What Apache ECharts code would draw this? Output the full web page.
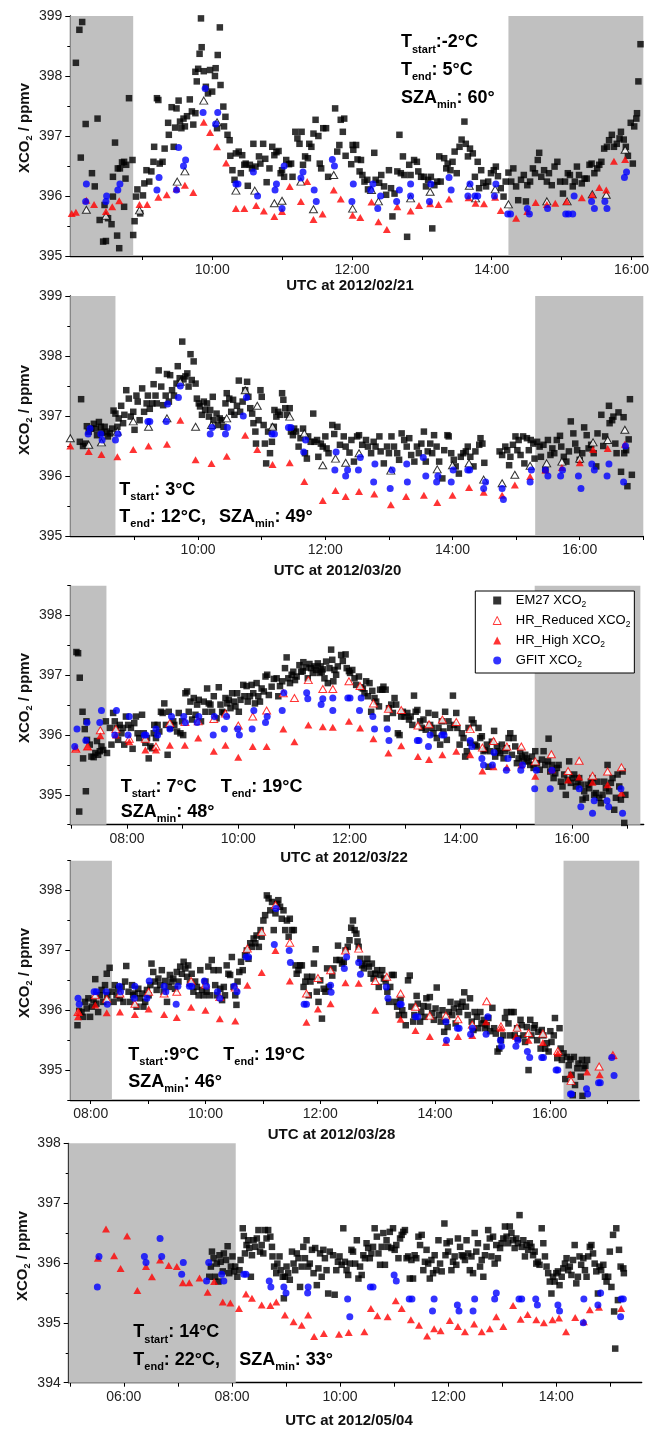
<!DOCTYPE html>
<html><head><meta charset="utf-8">
<script src="https://cdn.jsdelivr.net/npm/echarts@6/dist/echarts.min.js"></script>
<style>html,body{margin:0;padding:0;background:#fff}#c{width:662px;height:1429px}</style>
</head><body><div id="c"></div>
<script>
// ---------------- DATA (hours UTC, ppmv) ----------------
const p1Em27 = [[8.05,398.22],[8.10,398.77],[8.14,398.9],[8.19,397.2],[8.12,396.64],[8.28,396.38],[8.32,396.16],[8.36,397.29],[8.39,395.6],[8.44,395.24],[8.48,395.25],[8.46,395.85],[8.51,395.63],[8.56,395.53],[8.58,395.99],[8.61,396.89],[8.64,395.34],[8.67,395.13],[8.58,396.32],[8.65,396.46],[8.68,396.46],[8.71,396.56],[8.74,396.57],[8.77,396.52],[8.76,396.29],[8.74,395.82],[8.81,397.63],[8.86,396.6],[8.87,395.35],[8.89,395.58],[8.91,395.99],[8.93,396.11],[8.97,395.71],[9.01,396.01],[9.03,396.21],[9.06,396.43],[9.10,396.24],[9.13,396.41],[9.16,396.57],[9.17,396.82],[9.21,397.63],[9.23,397.6],[9.25,396.54],[9.29,396.57],[9.32,396.79],[9.37,397.22],[9.38,397.02],[9.42,397.48],[9.45,396.82],[9.47,397.14],[9.49,397.46],[9.52,397.59],[9.54,397.24],[9.56,397.13],[9.59,397.29],[9.61,397.16],[9.64,397.33],[9.68,397.61],[9.71,397.41],[9.73,397.19],[9.76,397.38],[9.76,398.07],[9.78,397.91],[9.80,398.12],[9.82,398.37],[9.85,398.48],[9.84,398.96],[9.88,398.08],[9.91,397.82],[9.94,397.71],[9.97,398.1],[10.0,397.74],[10.04,398.0],[10.05,398.13],[10.08,398.35],[10.11,398.81],[10.12,397.85],[10.07,397.13],[10.16,397.49],[10.19,397.32],[10.17,397.16],[10.22,397.02],[10.25,396.93],[10.26,396.67],[10.29,396.43],[10.32,396.27],[10.34,396.71],[10.38,396.74],[10.41,396.38],[10.43,396.68],[10.46,396.52],[10.48,396.54],[10.51,396.17],[10.54,396.52],[10.57,396.46],[10.59,396.87],[10.62,396.49],[10.67,396.66],[10.69,396.54],[10.73,396.87],[10.76,396.62],[10.78,396.23],[10.82,396.46],[10.86,396.82],[10.89,396.68],[10.92,396.73],[10.95,396.75],[10.98,396.38],[11.0,396.43],[11.03,396.32],[11.06,396.6],[11.1,396.53],[11.13,396.54],[11.15,396.32],[11.19,397.07],[11.22,396.96],[11.25,396.87],[11.28,397.07],[11.30,396.52],[11.33,396.66],[11.37,396.63],[11.39,396.87],[11.42,396.82],[11.45,397.04],[11.48,397.27],[11.52,397.0],[11.54,396.54],[11.56,396.46],[11.59,397.13],[11.63,397.13],[11.66,396.32],
[11.76,397.46],[11.84,397.27],[11.89,397.29],[11.87,397.07],[11.82,396.85],[11.79,396.74],[11.91,396.67],[11.99,396.53],[12.01,396.85],[12.06,396.85],[12.02,396.77],[12.08,396.61],[12.13,396.6],[12.11,396.41],[12.15,396.35],[12.18,396.24],[12.22,396.27],[12.23,396.11],[12.32,396.72],[12.34,396.27],[12.39,396.22],[12.42,396.35],[12.46,396.16],[12.49,396.02],[12.53,396.43],[12.56,396.13],[12.58,395.66],[12.61,396.04],[12.65,396.41],[12.68,397.02],[12.70,396.38],[12.73,396.66],[12.75,396.35],[12.79,395.32],[12.82,396.52],[12.84,396.35],[12.89,396.6],[12.93,396.57],[12.95,396.41],[12.99,396.32],[13.03,396.32],[13.06,396.16],[13.09,396.27],[13.13,396.32],[13.15,395.46],[13.18,396.18],[13.22,396.24],[13.25,396.66],[13.27,396.24],[13.32,396.63],[13.35,396.46],[13.37,396.54],[13.41,396.43],[13.44,396.57],[13.47,396.74],[13.50,396.38],[13.54,396.82],[13.57,396.94],[13.61,397.24],[13.63,396.87],[13.66,396.66],[13.69,396.79],[13.73,396.71],[13.76,396.32],[13.80,396.57],[13.82,396.13],[13.85,396.43],[13.88,396.22],[13.92,396.16],[13.95,396.24],[13.99,396.38],[14.03,396.43],[14.06,396.49],[14.09,396.33],[14.13,396.13],[14.17,395.99],[14.20,396.24],[14.24,396.39],[14.28,396.24],[14.31,396.46],[14.35,396.16],[14.38,395.93],[14.42,396.27],[14.46,396.35],[14.49,395.91],[14.51,396.18],[14.55,396.24],[14.59,396.46],[14.62,396.38],[14.66,396.6],[14.68,396.72],[14.71,396.32],[14.75,396.43],[14.79,396.24],[14.82,396.38],[14.86,396.18],[14.90,396.49],[14.94,396.57],[14.98,396.24],[15.02,396.04],[15.05,396.24],[15.09,396.38],[15.12,396.35],[15.16,396.16],[15.19,396.24],[15.22,396.49],[15.25,396.35],[15.29,396.21],[15.33,396.29],[15.36,396.29],[15.40,396.52],[15.43,396.54],[15.47,396.38],[15.51,396.46],[15.54,396.52],[15.57,396.57],[15.61,396.79],[15.65,396.82],[15.68,396.93],[15.72,397.02],[15.75,396.82],[15.79,396.87],[15.83,396.96],[15.85,397.07],[15.89,396.94],[15.92,396.82],[15.95,396.67],[15.99,397.22],[16.02,396.54],[16.04,397.16],[16.07,397.29],[16.08,397.38],[16.10,397.91],[16.13,398.53]];
const p1HrRed = [[8.20,395.77],[8.48,395.67],[8.96,395.76],[9.50,396.24],[9.61,396.41],[9.88,397.59],[10.07,397.23],[10.34,396.09],[10.61,396.09],[10.89,395.88],[11.0,395.92],[11.27,396.24],[11.45,395.78],[11.74,396.35],[12.01,395.79],[12.28,396.1],[12.38,395.91],[12.84,395.96],[13.12,396.07],[13.68,396.17],[13.77,395.96],[14.05,396.11],[14.24,395.86],[14.79,395.91],[15.08,395.91],[15.44,396.03],[15.64,396.02],[15.91,396.77]];
const p1HrHigh = [[7.99,395.71],[8.05,395.73],[8.20,395.93],[8.31,395.86],[8.48,395.74],[8.57,395.82],[8.67,395.92],[8.96,395.86],[9.07,395.86],[9.23,395.98],[9.35,396.02],[9.49,396.12],[9.61,396.18],[9.73,396.06],[9.88,397.23],[9.97,397.06],[10.07,396.82],[10.20,396.55],[10.34,395.79],[10.46,395.79],[10.63,395.84],[10.74,395.75],[10.89,395.66],[11.0,395.74],[11.11,396.16],[11.27,395.91],[11.36,396.24],[11.45,395.61],[11.58,395.7],[11.74,396.1],[11.84,395.95],[12.01,395.68],[12.12,395.64],[12.28,395.9],[12.38,395.57],[12.50,395.44],[12.65,395.82],[12.84,395.75],[12.96,395.84],[13.12,395.87],[13.24,395.86],[13.39,395.95],[13.67,395.97],[13.77,395.88],[13.89,395.87],[14.05,395.98],[14.13,395.76],[14.35,395.63],[14.51,395.74],[14.63,395.89],[14.79,395.86],[14.91,395.88],[15.07,395.91],[15.29,395.97],[15.44,396.02],[15.54,396.14],[15.64,396.1],[15.75,396.58],[15.91,396.61]];
const p1Gfit = [[8.20,396.2],[8.19,395.91],[8.48,395.91],[8.49,396.0],[8.65,396.1],[8.68,396.2],[9.24,396.31],[9.21,396.1],[9.49,396.1],[9.52,396.81],[9.59,396.5],[9.62,396.6],[9.90,397.79],[9.87,397.39],[10.05,397.2],[10.08,397.39],[10.34,396.2],[10.37,396.2],[10.59,396.4],[10.65,396.0],[10.90,396.1],[10.92,396.2],[11.0,395.79],[11.03,396.5],[11.27,396.3],[11.30,396.4],[11.46,396.1],[11.49,395.91],[11.72,396.61],[11.75,396.5],[12.0,395.91],[12.02,396.2],[12.27,396.1],[12.30,396.2],[12.37,395.79],[12.41,396.0],[12.64,395.91],[12.68,396.1],[12.84,396.0],[12.84,396.2],[13.11,395.91],[13.13,396.2],[13.42,396.1],[13.39,396.31],[13.66,396.0],[13.69,396.2],[13.76,396.0],[13.80,396.0],[14.04,396.0],[14.06,396.2],[14.23,395.7],[14.27,395.7],[14.51,395.79],[14.54,395.7],[14.80,395.79],[15.06,395.7],[15.10,395.7],[15.16,395.7],[15.18,396.0],[15.43,395.91],[15.47,395.79],[15.62,395.91],[15.65,395.79],[15.90,396.31],[15.93,396.4]];

const p2Em27 = [[8.16,397.28],[8.14,396.57],[8.19,396.5],[8.23,396.54],[8.25,396.83],[8.28,396.74],[8.32,396.79],[8.36,396.87],[8.39,396.79],[8.41,396.68],[8.44,396.9],[8.47,396.82],[8.49,396.72],[8.53,396.82],[8.56,396.74],[8.58,396.66],[8.61,396.71],[8.65,396.79],[8.67,397.09],[8.70,397.04],[8.73,396.82],[8.75,396.96],[8.79,397.17],[8.82,396.88],[8.84,397.02],[8.87,397.43],[8.91,397.29],[8.94,396.99],[8.98,397.07],[9.0,396.77],[9.03,397.34],[9.05,397.24],[9.08,396.93],[9.12,397.46],[9.15,397.07],[9.19,397.21],[9.21,397.34],[9.24,397.12],[9.28,397.21],[9.30,397.53],[9.33,397.34],[9.35,397.21],[9.38,397.76],[9.42,397.49],[9.45,397.18],[9.49,397.34],[9.51,397.7],[9.54,397.24],[9.56,397.68],[9.59,397.43],[9.62,397.34],[9.66,397.54],[9.68,397.83],[9.71,397.63],[9.75,398.24],[9.77,397.61],[9.80,397.66],[9.83,397.71],[9.85,397.49],[9.88,398.03],[9.90,397.6],[9.93,397.91],[9.96,397.54],[9.98,397.29],[10.01,397.21],[10.03,397.16],[10.06,397.02],[10.09,397.24],[10.11,397.1],[10.14,397.21],[10.17,396.99],[10.19,397.1],[10.23,397.32],[10.24,396.93],[10.29,397.04],[10.31,396.85],[10.34,396.96],[10.37,396.93],[10.40,396.82],[10.43,397.21],[10.45,397.38],[10.49,397.29],[10.52,397.07],[10.55,397.27],[10.57,397.02],[10.61,397.17],[10.64,397.59],[10.66,397.07],[10.70,397.24],[10.74,397.43],[10.77,397.57],[10.79,397.32],[10.82,397.13],[10.85,397.04],[10.87,396.88],[10.90,396.74],[10.91,396.54],[10.95,396.93],[10.98,397.43],[11.0,397.32],[11.03,396.85],[11.05,396.54],[11.07,396.21],[11.10,396.74],[11.13,396.38],[11.16,396.57],[11.19,396.82],[11.20,397.1],[11.23,396.99],[11.26,397.07],[11.29,397.02],[11.32,397.38],[11.34,397.27],[11.37,397.13],[11.40,397.02],[11.44,397.13],[11.46,396.74],[11.49,396.68],[11.51,396.79],[11.54,396.74],[11.58,396.49],[11.61,396.63],[11.65,396.79],[11.68,396.38],[11.71,396.29],[11.73,396.66],[11.77,396.57],[11.81,397.04],[11.83,396.57],[11.87,396.6],[11.89,396.32],[11.93,396.54],[11.96,396.49],[12.0,396.66],[12.02,396.46],[12.05,396.38],
[12.11,396.85],[12.14,396.7],[12.19,396.82],[12.23,396.52],[12.29,396.66],[12.32,396.49],[12.38,396.39],[12.41,396.6],[12.45,396.24],[12.50,396.66],[12.53,396.68],[12.58,396.52],[12.64,396.6],[12.67,396.49],[12.72,396.38],[12.76,396.57],[12.79,396.49],[12.85,396.66],[12.87,396.41],[12.92,396.21],[12.97,396.49],[13.0,396.38],[13.04,396.66],[13.08,396.49],[13.13,396.38],[13.16,396.27],[13.20,396.71],[13.24,396.6],[13.28,396.49],[13.32,396.63],[13.35,396.35],[13.40,396.24],[13.44,396.49],[13.47,396.38],[13.51,396.54],[13.55,396.74],[13.58,396.24],[13.61,396.41],[13.65,396.54],[13.68,396.38],[13.71,396.68],[13.75,396.49],[13.79,396.24],[13.84,395.96],[13.87,396.43],[13.92,396.68],[13.94,396.66],[13.98,396.38],[14.02,396.27],[14.05,396.16],[14.10,396.04],[14.13,396.32],[14.17,396.38],[14.21,396.41],[14.24,396.49],[14.28,396.32],[14.33,396.16],[14.36,396.41],[14.42,396.52],[14.44,396.63],[14.47,396.54],[14.50,396.22],[14.74,396.41],[14.78,396.35],[14.83,396.49],[14.86,396.43],[14.89,396.18],[14.91,396.32],[14.95,396.52],[14.99,396.66],[15.02,396.43],[15.04,396.6],[15.07,396.35],[15.11,396.66],[15.13,396.21],[15.17,396.63],[15.20,396.43],[15.23,396.6],[15.27,396.54],[15.29,396.29],[15.33,396.57],[15.37,396.49],[15.39,396.32],[15.43,396.52],[15.46,396.1],[15.50,396.6],[15.54,396.35],[15.57,396.46],[15.60,396.38],[15.64,396.6],[15.69,396.67],[15.71,396.49],[15.75,396.32],[15.79,396.24],[15.83,396.41],[15.86,396.91],[15.90,396.71],[15.93,396.54],[15.96,396.43],[16.0,396.27],[16.04,396.38],[16.07,396.81],[16.11,396.68],[16.14,396.46],[16.18,396.52],[16.22,396.38],[16.26,396.16],[16.28,396.71],[16.34,397.02],[16.37,396.5],[16.40,396.66],[16.46,397.17],[16.47,396.88],[16.51,396.93],[16.53,396.99],[16.56,396.54],[16.58,396.38],[16.61,397.06],[16.65,396.07],[16.69,396.98],[16.70,396.38],[16.73,396.43],[16.75,395.83],[16.77,396.61],[16.79,397.28],[16.82,396.02]];
const p2HrRed = [[7.99,396.63],[8.28,396.52],[8.48,396.56],[8.73,396.74],[8.98,396.91],[9.22,396.82],[9.51,396.96],[9.72,397.57],[9.96,396.82],[10.21,396.85],[10.45,396.96],[10.74,397.43],[10.93,397.17],[11.17,396.82],[11.44,396.99],[11.67,396.71],[11.96,396.18],[12.16,396.29],[12.32,396.22],[12.53,396.38],[13.03,396.09],[13.76,396.11],[14.0,396.18],[14.26,396.21],[14.49,395.94],[14.78,395.88],[14.98,396.02],[15.22,396.17],[15.48,396.21],[15.72,396.24],[16.0,396.29],[16.21,396.56],[16.44,396.6],[16.71,396.77]];
const p2HrHigh = [[7.99,396.5],[8.28,396.41],[8.48,396.36],[8.73,396.32],[8.98,396.44],[9.22,396.5],[9.51,396.53],[9.72,396.93],[9.96,396.27],[10.21,396.21],[10.45,396.33],[10.74,396.68],[10.93,396.44],[11.17,396.19],[11.44,396.22],[11.67,395.91],[11.96,395.59],[12.16,395.76],[12.32,395.66],[12.53,395.74],[12.77,395.7],[13.03,395.52],[13.27,395.66],[13.55,395.68],[13.76,395.56],[14.0,395.68],[14.26,395.81],[14.49,395.73],[14.78,395.68],[14.98,395.85],[15.22,395.99],[15.46,396.1],[15.72,396.14],[16.0,396.22],[16.21,396.44],[16.44,396.46],[16.71,396.53]];
const p2Gfit = [[8.27,396.7],[8.30,396.79],[8.47,396.7],[8.49,396.6],[8.70,396.6],[8.74,396.7],[9.21,396.91],[9.24,396.91],[9.50,396.91],[9.52,397.2],[9.69,397.31],[9.72,397.5],[10.19,396.7],[10.22,396.81],[10.43,396.7],[10.46,396.81],[10.71,397.0],[10.76,397.31],[11.16,396.7],[11.20,396.7],[11.42,396.81],[11.46,396.81],[11.66,396.4],[11.69,396.6],[12.17,396.4],[12.15,396.1],[12.32,396.0],[12.35,396.1],[12.52,396.1],[12.55,396.31],[12.76,395.9],[12.78,396.2],[13.02,395.79],[13.05,396.1],[13.28,396.2],[13.29,395.9],[13.54,396.31],[13.58,396.0],[13.75,395.9],[13.77,396.0],[13.98,395.9],[14.01,396.1],[14.24,396.1],[14.27,396.1],[14.49,395.79],[14.52,395.9],[14.78,395.79],[14.80,395.61],[15.22,395.9],[15.24,396.1],[15.46,396.1],[15.50,396.0],[15.70,396.0],[15.73,396.1],[15.98,396.0],[16.02,395.79],[16.19,396.2],[16.23,396.1],[16.43,396.0],[16.46,396.2],[16.69,395.9],[16.72,396.5]];

const p3Em27 = [[7.09,397.39],[7.12,397.37],[7.15,396.96],[7.14,394.72],[7.20,396.39],[7.24,396.1],[7.27,396.23],[7.21,395.61],[7.26,395.06],[7.28,395.92],[7.33,395.84],[7.36,395.64],[7.40,395.63],[7.43,395.7],[7.46,395.9],[7.48,395.67],[7.51,395.73],[7.54,395.81],[7.57,395.75],[7.62,396.23],[7.64,395.7],[7.69,396.12],[7.72,395.84],[7.75,396.37],[7.78,396.23],[7.81,396.12],[7.84,395.92],[7.87,396.17],[7.90,396.03],[7.93,396.12],[7.95,395.84],[7.98,396.31],[8.02,396.17],[8.07,396.12],[8.10,395.77],[8.13,396.2],[8.16,396.31],[8.19,396.03],[8.22,395.95],[8.27,396.34],[8.30,396.03],[8.33,395.87],[8.36,395.95],[8.39,395.61],[8.42,395.81],[8.45,395.78],[8.48,396.03],[8.49,396.17],[8.52,395.95],[8.55,396.17],[8.58,396.06],[8.61,396.39],[8.64,396.37],[8.67,396.53],[8.70,396.17],[8.73,395.67],[8.75,396.39],[8.78,396.12],[8.83,396.23],[8.85,396.17],[8.90,396.06],[8.93,396.37],[8.96,396.03],[8.99,396.23],[9.01,396.0],[9.05,396.7],[9.08,396.73],[9.11,396.39],[9.14,396.56],[9.17,396.26],[9.20,396.62],[9.23,396.34],[9.26,396.51],[9.29,396.59],[9.33,396.23],[9.38,396.56],[9.41,396.39],[9.44,396.78],[9.47,396.53],[9.50,396.51],[9.53,396.39],[9.56,396.65],[9.61,396.28],[9.65,396.8],[9.68,396.51],[9.71,396.39],[9.74,396.37],[9.77,396.62],[9.80,396.53],[9.83,396.59],[9.86,396.45],[9.89,396.7],[9.92,396.56],[9.95,396.48],[9.98,396.7],[10.01,396.39],[10.04,396.59],[10.09,396.84],[10.11,396.65],[10.15,396.82],[10.17,396.56],[10.21,396.65],[10.24,396.84],[10.27,396.7],[10.30,396.53],[10.33,396.87],[10.36,396.65],[10.39,396.56],[10.42,396.78],[10.46,396.73],[10.49,396.98],[10.52,397.01],[10.55,396.67],[10.60,396.81],[10.64,396.94],[10.69,396.95],[10.72,396.65],[10.75,396.82],[10.79,396.9],[10.84,397.12],[10.87,397.3],[10.90,396.95],[10.93,396.87],[10.96,397.01],[10.99,397.06],[11.02,396.92],[11.05,396.98],[11.10,397.17],[11.13,397.06],[11.16,397.07],[11.17,397.22],[11.22,397.13],[11.25,396.95],[11.28,397.19],[11.31,397.12],[11.34,397.04],[11.37,397.15],[11.40,397.09],[11.43,397.2],[11.46,397.04],[11.48,397.15],[11.50,397.06],[11.52,397.1],[11.55,396.95],[11.58,397.23],[11.61,396.87],[11.64,397.12],[11.67,397.43],
[11.69,397.26],[11.73,397.09],[11.71,396.9],[11.76,397.01],[11.79,397.15],[11.85,397.34],[11.88,397.24],[11.93,397.35],[11.95,397.12],[11.99,397.07],[12.01,397.04],[12.05,397.09],[12.09,396.95],[12.12,396.84],[12.17,396.98],[12.21,396.8],[12.24,396.78],[12.27,396.7],[12.30,396.9],[12.33,396.65],[12.36,396.87],[12.39,396.39],[12.41,396.74],[12.45,396.62],[12.48,396.56],[12.53,396.48],[12.55,396.76],[12.59,396.76],[12.61,396.81],[12.65,396.76],[12.67,396.28],[12.71,396.45],[12.75,396.51],[12.78,396.37],[12.81,396.62],[12.84,396.51],[12.87,396.03],[12.90,396.0],[12.93,396.31],[12.96,396.39],[12.99,396.31],[13.04,396.37],[13.07,396.26],[13.10,396.31],[13.13,396.17],[13.16,396.66],[13.19,396.39],[13.22,396.42],[13.27,396.23],[13.30,396.12],[13.33,396.26],[13.37,396.09],[13.42,396.37],[13.45,396.17],[13.48,396.12],[13.51,396.03],[13.54,396.34],[13.57,395.95],[13.60,396.12],[13.63,395.84],[13.66,396.23],[13.69,396.06],[13.72,396.39],[13.75,395.92],[13.78,396.23],[13.81,396.12],[13.86,396.66],[13.88,396.17],[13.92,396.37],[13.94,396.12],[13.98,395.84],[14.02,396.03],[14.05,395.95],[14.08,395.64],[14.11,395.73],[14.14,396.12],[14.17,395.87],[14.20,396.26],[14.23,396.2],[14.26,395.84],[14.29,395.81],[14.32,396.12],[14.35,395.95],[14.38,395.98],[14.41,395.73],[14.44,395.75],[14.47,395.84],[14.50,395.47],[14.53,395.73],[14.56,395.89],[14.60,396.07],[14.62,395.64],[14.65,395.81],[14.68,395.73],[14.71,395.7],[14.74,395.84],[14.77,395.61],[14.80,395.73],[14.83,395.78],[14.86,395.95],[14.89,396.03],[14.92,395.67],[14.95,395.95],[14.98,395.81],[15.01,395.53],[15.04,395.61],[15.07,395.73],[15.10,395.64],[15.13,395.56],[15.16,395.67],[15.19,395.61],[15.22,395.56],[15.25,395.5],[15.28,395.64],[15.31,395.45],[15.34,395.73],[15.37,395.53],[15.42,395.42],[15.46,395.59],[15.49,395.73],[15.52,395.5],[15.57,395.56],[15.58,395.94],[15.61,395.39],[15.64,395.5],[15.67,395.28],[15.70,395.36],[15.73,395.45],[15.76,395.5],[15.80,395.22],[15.83,395.14],[15.86,395.34],[15.89,395.0],[15.92,395.25],[15.95,395.56],[15.98,395.2],[16.01,395.28],[16.04,395.34],[16.07,395.14],[16.10,395.22],[16.13,395.28],[16.16,395.17],[16.19,394.92],[16.22,395.06],[16.25,394.95],[16.28,395.17],[16.31,395.11],[16.34,395.22],[16.37,395.28],[16.40,395.0],[16.43,395.03],[16.46,395.22],[16.49,394.95],[16.52,394.86],[16.55,395.0],[16.58,395.22],[16.61,395.11],[16.64,395.5],[16.67,395.06],[16.70,395.2],[16.73,395.28],[16.76,394.75],[16.79,394.95],[16.82,395.34],[16.85,395.14],[16.88,394.92],[16.91,395.39],[16.94,394.53],[16.96,395.0]];
const p3HrRed = [[7.08,395.77],[7.29,395.81],[7.52,396.08],[7.80,396.1],[8.04,395.94],[8.33,395.94],[8.52,395.81],[8.77,396.2],[9.04,396.22],[9.28,396.23],[9.56,396.27],[9.77,396.36],[10.0,396.16],[10.26,396.31],[10.51,396.41],[10.81,396.7],[11.01,396.62],[11.26,396.92],[11.52,396.77],[11.70,396.77],[11.99,396.9],[12.19,396.82],[12.43,396.53],[12.70,396.44],[12.93,396.42],[13.23,396.16],[13.43,396.18],[13.67,396.26],[13.92,396.22],[14.17,396.1],[14.39,395.79],[14.59,395.9],[14.83,395.81],[15.09,395.81],[15.34,395.56],[15.63,395.68],[15.93,395.4],[16.13,395.57],[16.37,395.32],[16.64,395.39],[16.89,395.46]];
const p3HrHigh = [[7.08,395.78],[7.29,395.81],[7.52,395.99],[7.80,396.0],[8.04,395.89],[8.33,395.75],[8.52,395.75],[8.77,395.83],[9.04,395.83],[9.28,395.95],[9.56,395.73],[9.77,395.83],[10.0,395.63],[10.26,395.81],[10.51,395.81],[10.81,396.1],[11.01,395.89],[11.26,396.17],[11.52,396.14],[11.70,396.13],[11.99,396.23],[12.19,396.12],[12.43,395.94],[12.70,395.7],[12.93,395.82],[13.23,395.64],[13.43,395.59],[13.67,395.67],[13.92,395.73],[14.17,395.67],[14.39,395.4],[14.59,395.47],[14.83,395.46],[15.09,395.5],[15.34,395.31],[15.64,395.42],[15.93,395.25],[16.13,395.3],[16.37,395.21],[16.64,395.17],[16.89,395.03]];
const p3Gfit = [[7.06,395.81],[7.10,396.1],[7.28,396.21],[7.26,395.91],[7.51,396.21],[7.54,396.41],[7.78,396.0],[7.81,396.41],[8.04,396.31],[8.02,396.0],[8.31,396.0],[8.34,396.0],[8.52,396.1],[8.55,396.0],[8.77,396.1],[8.80,396.31],[9.02,396.31],[9.05,396.21],[9.26,396.21],[9.29,396.31],[9.55,396.0],[9.57,396.31],[9.75,396.1],[9.79,396.31],[9.99,396.1],[10.02,396.0],[10.25,396.1],[10.28,396.41],[10.49,396.21],[10.52,396.31],[10.79,396.41],[10.82,396.71],[11.23,396.71],[11.25,396.61],[11.49,396.51],[11.52,396.61],[11.70,396.62],[11.70,396.41],[11.97,396.62],[12.01,396.62],[12.18,396.41],[12.21,396.62],[12.42,396.31],[12.45,396.1],[12.68,396.1],[12.71,395.91],[13.22,395.91],[13.25,395.91],[13.42,395.81],[13.45,396.0],[13.66,396.0],[13.70,396.0],[14.17,395.91],[14.20,395.81],[14.38,395.61],[14.41,395.5],[14.57,395.5],[14.60,395.71],[14.82,395.41],[14.85,395.61],[15.08,395.41],[15.11,395.5],[15.33,395.1],[15.36,395.41],[15.61,395.1],[15.64,395.41],[16.13,395.1],[16.16,394.8],[16.37,394.69],[16.40,394.9],[16.63,394.9],[16.66,394.8],[16.88,395.1],[16.91,394.69]];

const p4Em27 = [[7.77,395.75],[7.80,395.99],[7.84,395.97],[7.87,395.89],[7.90,396.14],[7.93,396.03],[7.96,396.2],[7.99,395.89],[8.02,396.06],[8.05,396.17],[8.08,396.52],[8.10,396.11],[8.13,395.97],[8.16,396.25],[8.19,396.34],[8.22,396.14],[8.25,396.42],[8.28,396.61],[8.29,396.25],[8.33,396.71],[8.37,396.31],[8.40,396.14],[8.42,396.42],[8.45,396.25],[8.48,396.36],[8.51,396.2],[8.54,396.39],[8.57,396.14],[8.60,396.48],[8.62,396.74],[8.66,396.31],[8.69,396.14],[8.72,396.42],[8.74,396.25],[8.77,396.28],[8.80,396.06],[8.83,396.36],[8.86,396.2],[8.89,396.28],[8.92,396.06],[8.95,396.14],[8.98,396.34],[9.01,396.25],[9.04,396.42],[9.06,396.78],[9.09,396.64],[9.12,396.48],[9.15,396.34],[9.18,396.53],[9.21,396.42],[9.24,396.67],[9.27,396.31],[9.30,396.49],[9.33,396.14],[9.36,396.39],[9.38,396.59],[9.41,396.48],[9.44,396.53],[9.47,396.36],[9.50,396.64],[9.53,396.48],[9.56,396.73],[9.59,396.61],[9.62,396.81],[9.65,396.7],[9.68,396.56],[9.70,396.75],[9.73,396.45],[9.76,396.61],[9.79,396.31],[9.82,396.48],[9.85,396.39],[9.88,396.25],[9.91,396.67],[9.94,396.34],[9.97,396.25],[10.0,396.48],[10.02,396.31],[10.05,396.73],[10.08,396.25],[10.11,396.84],[10.14,396.67],[10.17,396.42],[10.20,396.25],[10.23,396.67],[10.26,396.36],[10.29,396.17],[10.32,396.39],[10.34,396.25],[10.37,396.75],[10.40,396.61],[10.43,396.59],[10.46,396.89],[10.49,396.39],[10.52,396.25],[10.54,396.09],[10.56,396.48],[10.59,396.64],[10.62,396.81],[10.65,396.67],[10.69,396.92],[10.72,397.0],[10.75,396.86],[10.78,397.12],[10.81,397.06],[10.84,397.2],[10.87,397.12],[10.89,397.25],[10.93,397.06],[10.96,397.34],[10.98,397.23],[11.01,397.5],[11.04,397.59],[11.07,397.92],[11.10,397.87],[11.13,397.67],[11.16,397.81],[11.19,397.34],[11.22,397.62],[11.25,397.78],[11.27,397.84],[11.30,397.73],[11.33,397.53],[11.36,397.67],[11.39,397.34],[11.42,397.5],[11.45,397.23],[11.47,397.53],[11.51,397.34],[11.54,397.34],[11.57,396.75],[11.59,396.61],[11.62,396.67],[11.65,396.75],[11.68,396.75],[11.71,396.39],[11.74,396.48],[11.77,396.56],[11.80,396.25],[11.83,396.48],[11.86,396.56],[11.89,396.78],[11.92,397.02],[11.94,396.31],[11.97,396.14],[12.0,396.5],[12.03,395.86],[12.06,396.36],[12.09,396.31],[12.12,396.7],[12.15,396.39],
[12.21,396.58],[12.23,396.7],[12.28,396.84],[12.31,397.08],[12.34,396.84],[12.38,396.78],[12.41,396.81],[12.44,397.0],[12.48,397.06],[12.51,397.17],[12.54,397.38],[12.57,397.5],[12.60,397.34],[12.63,397.28],[12.65,397.15],[12.67,397.06],[12.70,396.86],[12.73,396.75],[12.76,396.7],[12.79,396.78],[12.82,396.86],[12.85,396.73],[12.88,396.61],[12.90,396.78],[12.93,396.53],[12.96,396.61],[12.99,396.67],[13.02,396.39],[13.05,396.59],[13.08,396.67],[13.11,396.53],[13.14,396.48],[13.17,396.31],[13.20,396.14],[13.22,396.39],[13.25,396.59],[13.28,396.59],[13.31,396.14],[13.34,396.06],[13.37,395.92],[13.40,396.2],[13.43,396.0],[13.46,395.92],[13.49,395.75],[13.53,396.5],[13.56,396.58],[13.59,396.06],[13.62,395.81],[13.64,395.92],[13.68,396.24],[13.70,396.11],[13.74,395.81],[13.76,395.97],[13.80,396.07],[13.82,395.89],[13.85,396.2],[13.88,396.06],[13.91,396.22],[13.95,395.95],[13.98,395.84],[14.01,396.03],[14.03,396.38],[14.07,395.92],[14.10,395.81],[14.13,396.0],[14.16,395.64],[14.19,395.84],[14.22,395.72],[14.24,395.97],[14.27,396.14],[14.30,395.92],[14.33,396.03],[14.36,395.78],[14.39,396.11],[14.42,395.97],[14.45,396.06],[14.48,396.14],[14.51,396.3],[14.54,396.06],[14.57,395.92],[14.61,396.2],[14.64,395.81],[14.67,395.67],[14.69,395.97],[14.73,395.89],[14.75,395.7],[14.79,395.97],[14.81,395.78],[14.85,395.84],[14.87,395.7],[14.90,395.75],[14.93,395.87],[14.96,395.65],[15.0,396.04],[15.03,395.7],[15.06,395.61],[15.09,395.31],[15.12,395.36],[15.15,395.5],[15.19,395.58],[15.22,395.87],[15.25,395.97],[15.28,395.78],[15.31,395.58],[15.33,395.97],[15.37,395.97],[15.39,395.58],[15.43,395.7],[15.45,395.53],[15.49,395.84],[15.51,395.75],[15.54,395.58],[15.57,395.47],[15.60,395.72],[15.63,395.0],[15.66,395.84],[15.68,395.58],[15.72,395.7],[15.74,395.75],[15.78,395.5],[15.80,395.64],[15.84,395.36],[15.86,395.67],[15.89,395.58],[15.92,395.36],[15.95,395.45],[15.98,395.31],[16.01,395.65],[16.03,395.47],[16.07,395.58],[16.09,395.87],[16.13,395.2],[16.17,395.7],[16.19,395.36],[16.21,395.17],[16.24,395.28],[16.27,394.85],[16.30,395.22],[16.33,395.08],[16.36,395.18],[16.38,394.92],[16.42,395.22],[16.44,394.75],[16.48,395.03],[16.50,395.11],[16.54,394.89],[16.56,395.17],[16.59,395.03],[16.62,395.07],[16.65,395.17],[16.40,394.58],[16.57,394.57]];
const p4HrRed = [[7.78,395.97],[8.08,396.25],[8.28,396.19],[8.51,396.28],[8.77,396.11],[9.01,396.31],[9.28,396.28],[9.50,396.31],[9.75,396.49],[10.0,396.43],[10.25,396.22],[10.52,396.38],[10.73,397.03],[10.98,397.31],[11.22,397.76],[11.47,397.13],[11.76,396.28],[11.96,396.54],[12.18,396.67],[12.44,397.0],[12.67,397.03],[12.96,396.49],[13.16,396.56],[13.40,396.28],[13.66,396.06],[13.91,395.91],[14.19,395.91],[14.40,395.85],[14.65,395.76],[14.90,396.15],[15.15,395.73],[15.43,395.71],[15.63,395.62],[15.88,395.61],[16.14,395.32],[16.37,394.82],[16.86,395.06],[17.10,395.25]];
const p4HrHigh = [[7.78,395.89],[7.79,395.97],[8.08,396.09],[8.28,395.96],[8.51,395.97],[8.77,395.93],[9.01,396.02],[9.28,395.93],[9.50,395.88],[9.75,396.05],[10.0,396.0],[10.25,395.86],[10.52,395.82],[10.73,396.42],[10.98,396.63],[11.22,397.0],[11.47,396.49],[11.76,395.8],[11.96,396.02],[12.18,396.11],[12.44,396.46],[12.67,396.45],[12.96,396.0],[13.40,395.85],[13.66,395.66],[13.91,395.56],[14.19,395.46],[14.40,395.56],[14.65,395.58],[14.89,395.81],[15.15,395.7],[15.41,395.56],[15.63,395.5],[15.88,395.46],[16.14,395.28],[16.36,394.93],[16.65,394.97],[16.87,394.92],[17.10,395.24]];
const p4Gfit = [[7.78,396.2],[7.80,396.1],[8.06,396.31],[8.10,396.31],[8.27,396.31],[8.29,396.1],[8.50,396.4],[8.52,396.31],[8.77,396.4],[8.76,396.2],[8.98,396.2],[9.02,396.49],[9.28,396.4],[9.31,396.31],[9.49,396.1],[9.52,396.4],[9.72,396.4],[9.76,396.4],[9.98,396.49],[10.02,396.4],[10.21,396.31],[10.25,396.2],[10.50,396.4],[10.55,396.31],[10.71,396.89],[10.75,396.89],[11.20,397.1],[11.23,397.7],[11.46,397.0],[11.48,396.8],[11.72,396.1],[11.76,396.1],[12.18,396.42],[12.19,396.3],[12.42,396.7],[12.46,396.89],[12.67,396.8],[12.70,396.6],[13.15,396.39],[13.18,396.2],[13.39,396.1],[13.41,396.1],[13.66,395.89],[13.70,395.89],[14.19,395.81],[14.20,395.5],[14.39,395.7],[14.42,395.7],[14.62,395.6],[14.65,395.7],[14.89,395.6],[14.92,395.89],[15.14,395.5],[15.16,395.4],[15.41,395.4],[15.44,395.5],[15.61,395.31],[15.65,395.21],[15.86,395.21],[15.89,395.21],[16.11,395.0],[16.14,395.0],[16.36,394.6],[16.38,394.6],[16.64,394.69],[16.66,394.6],[16.85,394.79],[16.88,394.79],[17.08,395.21],[17.12,394.91]];

const p5Em27 = [[7.58,395.77],[7.61,395.94],[7.63,396.19],[7.66,396.08],[7.69,395.77],[7.72,395.99],[7.75,395.69],[7.77,396.13],[7.79,396.02],[7.83,395.86],[7.85,396.16],[7.89,396.05],[7.92,396.28],[7.95,395.83],[7.98,395.94],[8.01,396.11],[8.04,395.86],[8.06,395.94],[8.10,395.77],[8.14,395.88],[8.16,396.05],[8.20,396.58],[8.22,396.45],[8.24,396.16],[8.27,396.3],[8.30,396.38],[8.32,396.25],[8.35,395.77],[8.37,396.13],[8.40,396.38],[8.43,396.27],[8.46,396.41],[8.49,396.55],[8.52,396.19],[8.55,396.3],[8.58,396.16],[8.61,396.55],[8.64,396.41],[8.67,396.55],[8.71,396.44],[8.74,396.27],[8.75,396.11],[8.78,395.94],[8.82,395.83],[8.84,395.99],[8.88,396.11],[8.90,395.88],[8.94,395.77],[8.96,395.41],[8.98,395.77],[9.01,395.94],[9.04,395.83],[9.07,395.72],[9.11,396.19],[9.14,395.99],[9.17,395.88],[9.20,396.16],[9.23,396.08],[9.26,395.6],[9.29,395.94],[9.32,396.27],[9.35,396.08],[9.38,396.38],[9.41,395.94],[9.44,395.99],[9.48,396.22],[9.51,395.83],[9.54,396.25],[9.57,395.63],[9.60,395.91],[9.63,396.16],[9.66,395.77],[9.69,396.22],[9.72,396.08],[9.75,395.88],[9.78,395.49],[9.81,396.19],
[9.87,396.13],[9.90,395.47],[9.93,395.88],[9.96,396.02],[9.99,396.11],[10.03,395.97],[10.06,396.58],[10.09,396.02],[10.12,395.88],[10.15,395.8],[10.18,395.99],[10.21,396.22],[10.24,396.19],[10.28,395.99],[10.31,396.38],[10.34,395.74],[10.37,395.94],[10.40,395.8],[10.43,396.13],[10.46,396.08],[10.49,396.33],[10.52,396.25],[10.55,396.08],[10.58,396.16],[10.61,396.27],[10.64,396.58],[10.68,396.44],[10.71,396.16],[10.74,395.97],[10.77,396.27],[10.80,396.5],[10.83,395.97],[10.86,396.38],[10.89,396.27],[10.92,396.52],[10.95,396.25],[10.98,396.58],[11.01,396.22],[11.04,396.3],[11.08,396.08],[11.11,396.41],[11.14,396.47],[11.17,396.52],[11.20,396.55],[11.23,396.08],[11.26,396.11],[11.29,395.74],[11.32,396.05],[11.35,395.74],[11.38,396.13],[11.41,396.08],[11.45,396.44],[11.48,396.3],[11.51,396.47],[11.54,395.88],[11.57,396.02],[11.60,396.22],[11.63,395.99],[11.66,395.74],[11.69,396.05],[11.72,395.83],[11.75,396.13],[11.78,395.88],[11.82,396.38],[11.85,395.99],[11.88,395.86],[11.93,396.66],[11.95,396.13],[11.97,396.33],[12.0,396.19],[12.03,396.36],[12.06,395.88],[12.09,396.02],[12.12,396.11],[12.15,395.97],[12.18,396.41],[12.22,396.27],[12.25,396.13],[12.28,396.11],[12.31,396.05],[12.34,396.38],[12.37,396.16],[12.40,395.88],[12.43,396.11],[12.46,395.83],[12.49,396.5],[12.52,396.19],[12.55,396.33],[12.59,395.94],[12.62,396.05],[12.65,395.77],[12.68,396.13],[12.71,396.27],[12.74,396.55],[12.77,396.41],[12.80,396.11],[12.83,396.44],[12.86,395.99],[12.89,396.3],[12.92,396.08],[12.96,396.25],[12.99,396.33],[13.02,396.41],[13.05,396.61],[13.08,396.44],[13.11,396.33],[13.14,396.61],[13.17,396.5],[13.20,396.38],[13.23,396.25],[13.26,396.41],[13.29,396.33],[13.32,396.8],[13.36,396.27],[13.39,396.38],[13.42,396.11],[13.45,396.3],[13.48,396.22],[13.51,396.33],[13.54,396.27],[13.57,396.13],[13.60,396.19],[13.63,395.99],[13.66,396.02],[13.69,395.97],[13.73,396.58],[13.76,396.33],[13.79,396.11],[13.82,395.94],[13.85,395.83],[13.88,395.69],[13.91,395.49],[13.94,395.77],[13.97,395.69],[14.0,395.83],[14.03,395.86],[14.06,395.63],[14.10,395.77],[14.13,395.91],[14.16,395.99],[14.19,396.08],[14.22,395.88],[14.25,395.94],[14.28,395.8],[14.31,396.05],[14.34,396.3],[14.37,395.66],[14.40,395.77],[14.43,396.11],[14.46,395.97],[14.50,396.08],[14.53,395.88],[14.56,395.77],[14.59,396.11],[14.62,396.27],[14.65,396.3],[14.68,396.16],[14.71,395.99],[14.74,395.86],[14.77,395.49],[14.80,395.94],[14.83,395.88],[14.87,395.97],[14.90,395.77],[14.93,395.69],[14.96,395.77],[14.99,396.19],[15.02,395.6],[15.05,396.47],[15.07,395.19],[15.09,394.57],[15.11,396.58],[15.14,395.38],[15.16,396.22],[15.19,395.94],[15.24,395.91],[15.25,395.83]];
const p5HrHigh = [[5.52,396.08],[5.67,396.57],[5.82,396.12],[5.94,395.91],[6.06,396.45],[6.25,395.54],[6.41,395.94],[6.52,395.77],[6.67,396.05],[6.83,395.96],[6.98,395.94],[7.09,395.67],[7.21,395.67],[7.40,395.75],[7.55,395.51],[7.67,395.69],[7.83,395.35],[7.97,395.33],[8.13,395.24],[8.26,395.48],[8.37,395.41],[8.55,395.3],[8.71,395.29],[8.82,395.35],[8.98,395.13],[9.14,395.02],[9.29,394.96],[9.41,395.13],[9.52,394.77],[9.70,394.82],[9.98,394.81],[10.16,394.84],[10.45,394.85],[10.57,395.24],[10.69,395.12],[10.88,395.1],[11.03,395.37],[11.14,395.24],[11.31,395.05],[11.46,394.96],[11.61,394.78],[11.74,394.9],[11.86,394.87],[12.03,395.04],[12.18,394.94],[12.31,394.85],[12.48,394.98],[12.62,394.85],[12.77,394.9],[12.89,395.1],[13.02,394.94],[13.20,395.29],[13.34,395.06],[13.47,395.14],[13.63,395.05],[13.77,395.0],[13.93,395.05],[14.05,395.08],[14.18,394.85],[14.35,395.09],[14.51,395.02],[14.62,395.22],[14.79,395.26],[15.20,395.24]];
const p5Gfit = [[5.51,395.6],[5.54,396.11],[6.38,396.11],[6.41,396.01],[6.67,396.41],[6.70,396.11],[7.07,395.81],[7.10,396.01],[7.53,395.7],[7.57,396.01],[7.81,395.81],[7.85,395.7],[8.22,395.81],[8.26,395.81],[8.69,395.7],[8.72,395.6],[8.96,395.6],[9.0,395.5],[9.40,395.5],[9.41,395.6],[10.14,395.4],[10.18,395.1],[10.56,395.6],[10.61,395.6],[11.0,395.8],[11.04,395.7],[11.28,395.4],[11.33,395.4],[11.71,395.2],[11.74,395.4],[12.17,395.3],[12.20,395.2],[12.46,395.2],[12.49,395.4],[12.86,395.4],[12.89,395.5],[13.31,395.4],[13.36,395.4],[13.62,395.4],[13.65,395.3],[14.03,395.3],[14.06,395.2],[14.51,395.4],[14.50,395.0],[14.77,395.3],[14.82,395.5],[15.20,395.4],[15.19,395.1],[15.24,395.4]];

// shaded (grey) time windows per panel, hours
const p1Bands = [[7.97,8.87],[14.24,16.17]];
const p2Bands = [[7.99,8.70],[15.30,17.0]];
const p3Bands = [[6.98,7.63],[15.33,17.23]];
const p4Bands = [[7.645,8.37],[16.24,17.56]];
const p5Bands = [[4.98,8.07]];

// tick label values
const p1XLabels = [10,12,14,16], p1XTicks = [9,10,11,12,13,14,15,16];
const p2XLabels = [10,12,14,16], p2XTicks = [9,10,11,12,13,14,15,16,17];
const p3XLabels = [8,10,12,14,16], p3XTicks = [7,8,9,10,11,12,13,14,15,16,17];
const p4XLabels = [8,10,12,14,16], p4XTicks = [8,9,10,11,12,13,14,15,16,17];
const p5XLabels = [6,8,10,12,14], p5XTicks = [5,6,7,8,9,10,11,12,13,14,15];
const p1YLabels = [395,396,397,398,399], p1YMinor = [395.5,396.5,397.5,398.5];
const p2YLabels = [395,396,397,398,399], p2YMinor = [395.5,396.5,397.5,398.5];
const p3YLabels = [395,396,397,398], p3YMinor = [394.5,395.5,396.5,397.5,398.5];
const p4YLabels = [395,396,397,398], p4YMinor = [394.5,395.5,396.5,397.5,398.5];
const p5YLabels = [394,395,396,397,398], p5YMinor = [394.5,395.5,396.5,397.5];
const dates = ['2012/02/21','2012/03/20','2012/03/22','2012/03/28','2012/05/04'];

// ---------------- LAYOUT ----------------
const F = 'Liberation Sans, Arial, sans-serif';
const panels = [
  {em:p1Em27, red:p1HrRed, high:p1HrHigh, gfit:p1Gfit, bands:p1Bands, xl:p1XLabels, xt:p1XTicks, yl:p1YLabels, ym:p1YMinor, openColor:'#000',
   g:{left:70.3, top:16, width:573, height:240}, x:[7.97,16.17], y:[395,399], title:[350,286], ytitle:[25,128]},
  {em:p2Em27, red:p2HrRed, high:p2HrHigh, gfit:p2Gfit, bands:p2Bands, xl:p2XLabels, xt:p2XTicks, yl:p2YLabels, ym:p2YMinor, openColor:'#000',
   g:{left:70.3, top:296, width:573, height:240}, x:[7.99,17.0], y:[395,399], title:[337.5,571], ytitle:[25,410]},
  {em:p3Em27, red:p3HrRed, high:p3HrHigh, gfit:p3Gfit, bands:p3Bands, xl:p3XLabels, xt:p3XTicks, yl:p3YLabels, ym:p3YMinor, openColor:'#f00',
   g:{left:70.3, top:585.7, width:573.4, height:239}, x:[6.98,17.29], y:[394.5,398.5], title:[344,858], ytitle:[25,698]},
  {em:p4Em27, red:p4HrRed, high:p4HrHigh, gfit:p4Gfit, bands:p4Bands, xl:p4XLabels, xt:p4XTicks, yl:p4YLabels, ym:p4YMinor, openColor:'#f00',
   g:{left:70.3, top:860.7, width:569, height:239.3}, x:[7.645,17.56], y:[394.5,398.5], title:[331.5,1135], ytitle:[25,973]},
  {em:p5Em27, red:null, high:p5HrHigh, gfit:p5Gfit, bands:p5Bands, xl:p5XLabels, xt:p5XTicks, yl:p5YLabels, ym:p5YMinor, openColor:'#f00',
   g:{left:68.7, top:1143.3, width:573, height:239.4}, x:[4.98,15.58], y:[394,398], title:[349,1421], ytitle:[23,1256]}
];

const grids=[], xAxes=[], yAxes=[], series=[], graphics=[];
const axisLine = {show:true, lineStyle:{color:'#000', width:1.3}};
panels.forEach((p,i)=>{
  grids.push(Object.assign({containLabel:false}, p.g));
  xAxes.push({type:'value', gridIndex:i, min:p.x[0], max:p.x[1], position:'bottom',
    axisLine:axisLine, splitLine:{show:false},
    axisTick:{show:true, inside:false, length:4, customValues:p.xt, lineStyle:{color:'#000', width:1}},
    axisLabel:{show:true, customValues:p.xl, margin:7, fontFamily:F, fontSize:14, color:'#222',
      formatter:v=>(v<10?'0':'')+v+':00'}});
  yAxes.push({type:'value', gridIndex:i, min:p.y[0], max:p.y[1], position:'left',
    axisLine:axisLine, splitLine:{show:false},
    axisTick:{show:true, inside:false, length:5, customValues:p.yl, lineStyle:{color:'#000', width:1}},
    axisLabel:{show:true, customValues:p.yl, margin:8, fontFamily:F, fontSize:14, color:'#222'}});
  yAxes.push({type:'value', gridIndex:i, min:p.y[0], max:p.y[1], position:'left', offset:0,
    axisLine:{show:false}, splitLine:{show:false}, axisLabel:{show:false},
    axisTick:{show:true, inside:false, length:3, customValues:p.ym, lineStyle:{color:'#000', width:1}}});
  const yi = 2*i;
  series.push({type:'scatter', name:'EM27 XCO2', xAxisIndex:i, yAxisIndex:yi, data:p.em,
    symbol:'rect', symbolSize:6.5, itemStyle:{color:'#000'}, z:2,
    markArea:{silent:true, itemStyle:{color:'#c0c0c0'}, data:p.bands.map(b=>[{xAxis:b[0]},{xAxis:b[1]}])}});
  if (p.red) series.push({type:'scatter', name:'HR_Reduced XCO2', xAxisIndex:i, yAxisIndex:yi, data:p.red,
    symbol:'triangle', symbolSize:[8,7], itemStyle:{color:'#fff', borderColor:p.openColor, borderWidth:1}, z:3});
  series.push({type:'scatter', name:'HR_High XCO2', xAxisIndex:i, yAxisIndex:yi, data:p.high,
    symbol:'triangle', symbolSize:[8,7], itemStyle:{color:'#f00'}, z:4});
  series.push({type:'scatter', name:'GFIT XCO2', xAxisIndex:i, yAxisIndex:yi, data:p.gfit,
    symbol:'circle', symbolSize:7, itemStyle:{color:'#00f'}, z:5});
  graphics.push({type:'text', z:100, style:{x:p.title[0], y:p.title[1], text:'UTC at '+dates[i],
    fontFamily:F, fontSize:15, fontWeight:'bold', fill:'#111', align:'center', verticalAlign:'middle'}});
  graphics.push({type:'text', z:100, x:p.ytitle[0], y:p.ytitle[1], rotation:Math.PI/2,
    style:{x:0, y:0, text:'{m|XCO}{s|2}{m| / ppmv}', align:'center', verticalAlign:'middle', fill:'#111',
      fontFamily:F, fontSize:15, fontWeight:'bold',
      rich:{m:{fontFamily:F, fontSize:15, fontWeight:'bold', fill:'#111'},
            s:{fontFamily:F, fontSize:9, fontWeight:'bold', fill:'#111', padding:[10,0,0,0]}}}});
});

const annRich = {m:{fontFamily:F, fontSize:18, fontWeight:'bold', fill:'#000'},
                 s:{fontFamily:F, fontSize:11, fontWeight:'bold', fill:'#000', padding:[14,0,0,0]}};
const anns = [
  [401,42.5,'{m|T}{s|start}{m|:-2°C}'],[401,70.3,'{m|T}{s|end}{m|: 5°C}'],[401,97.8,'{m|SZA}{s|min}{m|: 60°}'],
  [119.3,489.7,'{m|T}{s|start}{m|: 3°C}'],[119.3,517.2,'{m|T}{s|end}{m|: 12°C,}'],[219,517.2,'{m|SZA}{s|min}{m|: 49°}'],
  [120.7,786.7,'{m|T}{s|start}{m|: 7°C}'],[220.7,786.7,'{m|T}{s|end}{m|: 19°C}'],[120.7,811.7,'{m|SZA}{s|min}{m|: 48°}'],
  [128.3,1055,'{m|T}{s|start}{m|:9°C}'],[223.3,1055,'{m|T}{s|end}{m|: 19°C}'],[128.3,1082.2,'{m|SZA}{s|min}{m|: 46°}'],
  [133.3,1332.5,'{m|T}{s|start}{m|: 14°C}'],[133.3,1360,'{m|T}{s|end}{m|: 22°C,}'],[239.3,1360,'{m|SZA}{s|min}{m|: 33°}']
];
anns.forEach(a=>graphics.push({type:'text', z:100, style:{x:a[0], y:a[1], text:a[2], rich:annRich,
  fontFamily:F, fontSize:18, fontWeight:'bold', fill:'#000', align:'left', verticalAlign:'middle'}}));

const chart = echarts.init(document.getElementById('c'), null, {renderer:'canvas'});
chart.setOption({
  animation:false,
  backgroundColor:'#fff',
  grid:grids, xAxis:xAxes, yAxis:yAxes, series:series, graphic:graphics,
  legend:{orient:'vertical', left:475.3, top:591, padding:[3,4,4,17.4], itemWidth:8, itemHeight:8, itemGap:5,
    symbolKeepAspect:true,
    borderColor:'#000', borderWidth:1, backgroundColor:'#fff', borderRadius:0, z:20, selectedMode:false,
    textStyle:{fontFamily:F, fontSize:13, color:'#000',
      rich:{n:{fontFamily:F, fontSize:13, color:'#000', padding:[0,0,0,9.6]}, s:{fontFamily:F, fontSize:8.5, color:'#000', padding:[8,0,0,0]}}},
    formatter:n=>'{n|'+n.slice(0,-1)+'}{s|2}',
    data:[{name:'EM27 XCO2', icon:'rect', itemStyle:{color:'#000', borderWidth:0}},
          {name:'HR_Reduced XCO2', icon:'triangle', itemStyle:{color:'#fff', borderColor:'#f00', borderWidth:1}},
          {name:'HR_High XCO2', icon:'triangle', itemStyle:{color:'#f00', borderWidth:0}},
          {name:'GFIT XCO2', icon:'circle', itemStyle:{color:'#00f', borderWidth:0}}]}
});
</script></body></html>
